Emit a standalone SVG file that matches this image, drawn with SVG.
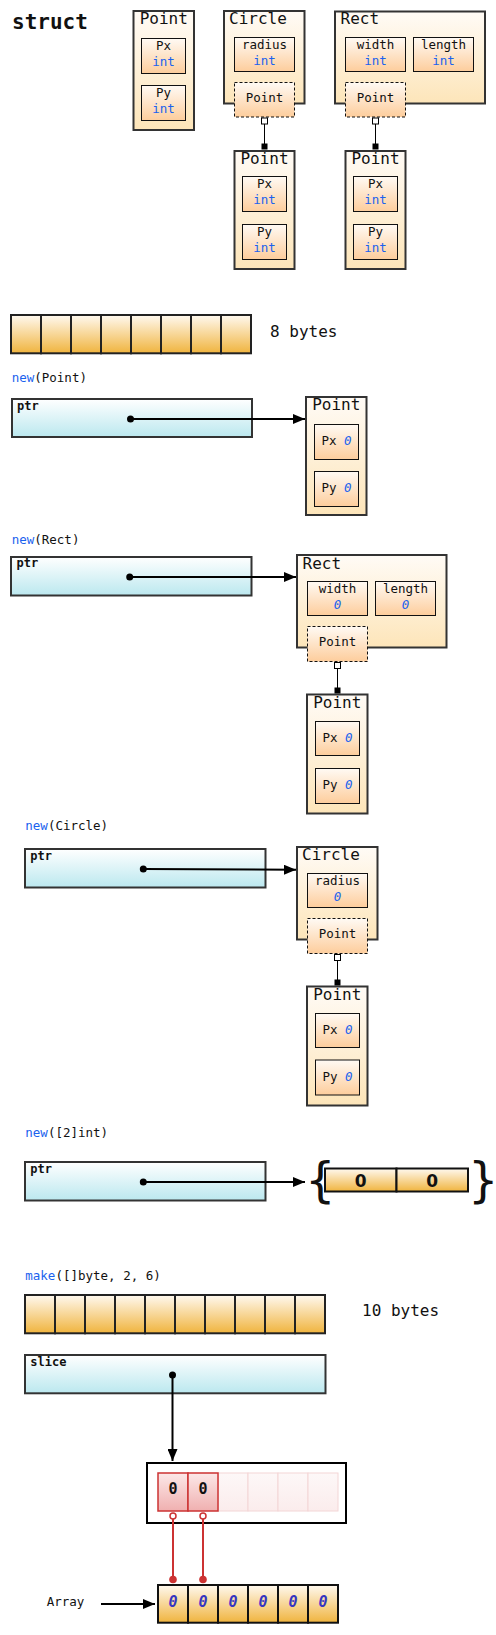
<svg xmlns="http://www.w3.org/2000/svg" width="496" height="1635" viewBox="0 0 496 1635">
<defs>
<linearGradient id="gStruct" x1="0" y1="0" x2="0" y2="1"><stop offset="0" stop-color="#fffbf6"/><stop offset="1" stop-color="#fde5b9"/></linearGradient>
<linearGradient id="gField" x1="0" y1="0" x2="0" y2="1"><stop offset="0" stop-color="#fffaf4"/><stop offset="1" stop-color="#fdcd9c"/></linearGradient>
<linearGradient id="gByte" x1="0" y1="0" x2="0" y2="1"><stop offset="0" stop-color="#fff9f0"/><stop offset="1" stop-color="#f0b43e"/></linearGradient>
<linearGradient id="gPtr" x1="0" y1="0" x2="0" y2="1"><stop offset="0" stop-color="#ffffff"/><stop offset="1" stop-color="#bbe8ef"/></linearGradient>
<linearGradient id="gRed" x1="0" y1="0" x2="0" y2="1"><stop offset="0" stop-color="#fce8e8"/><stop offset="1" stop-color="#f0b0b0"/></linearGradient>
<linearGradient id="gFade" x1="0" y1="0" x2="0" y2="1"><stop offset="0" stop-color="#fdf8f8"/><stop offset="1" stop-color="#fbecec"/></linearGradient>
<marker id="arrow" viewBox="0 0 12 10" refX="12" refY="5" markerWidth="12" markerHeight="10" markerUnits="userSpaceOnUse" orient="auto"><path d="M0,0 L12,5 L0,10 z" fill="#000"/></marker>
<marker id="dot" viewBox="0 0 8 8" refX="4" refY="4" markerWidth="8" markerHeight="8" markerUnits="userSpaceOnUse"><circle cx="4" cy="4" r="3.5" fill="#000"/></marker>
<marker id="sqOpen" viewBox="0 0 8 8" refX="4" refY="4" markerWidth="8" markerHeight="8" markerUnits="userSpaceOnUse"><rect x="1" y="1" width="6" height="6" fill="#fff" stroke="#000" stroke-width="1"/></marker>
<marker id="sqFill" viewBox="0 0 8 8" refX="4" refY="4" markerWidth="8" markerHeight="8" markerUnits="userSpaceOnUse"><rect x="1" y="1" width="6" height="6" fill="#000"/></marker>
<marker id="rOpen" viewBox="0 0 10 10" refX="5" refY="5" markerWidth="10" markerHeight="10" markerUnits="userSpaceOnUse"><circle cx="5" cy="5" r="3" fill="#fff" stroke="#cc3333" stroke-width="1.5"/></marker>
<marker id="rFill" viewBox="0 0 10 10" refX="5" refY="5" markerWidth="10" markerHeight="10" markerUnits="userSpaceOnUse"><circle cx="5" cy="5" r="3.8" fill="#cc3333"/></marker>
</defs>
<style>
text{font-family:"DejaVu Sans Mono","Liberation Mono",monospace;fill:#111}
.struct{fill:url(#gStruct);stroke:#333;stroke-width:2}
.field{fill:url(#gField);stroke:#111;stroke-width:1}
.emb{fill:url(#gField);stroke:#111;stroke-width:1;stroke-dasharray:3 2}
.byte{fill:url(#gByte);stroke:#222;stroke-width:2}
.ptr{fill:url(#gPtr);stroke:#333;stroke-width:2}
.title{font-size:16px}
.f{font-size:12.5px;text-anchor:middle}
.lbl{font-size:12.5px}
.big{font-size:16px}
.kw{fill:#1a62ee}
.v{fill:#1a62ee;font-style:italic}
.b{font-weight:bold;font-size:12px}
.red{fill:url(#gRed);stroke:#cc3333;stroke-width:1.5}
.fade{fill:url(#gFade);stroke:#f3d6d6;stroke-width:1}
.arr{fill:url(#gByte);stroke:#111;stroke-width:2}
.c{stroke:#000;stroke-width:2;fill:none}
.thin{stroke:#000;stroke-width:1;fill:none}
.rc{stroke:#cc3333;stroke-width:2;fill:none}
</style>

<text x="12" y="29" style="font-size:21px;font-weight:bold">struct</text>

<g id="struct-point">
<rect class="struct" x="133.5" y="11" width="60.5" height="119"/>
<text class="title" x="163.75" y="24" text-anchor="middle">Point</text>
<rect class="field" x="141.5" y="38.5" width="44" height="35"/>
<text class="f" x="163.5" y="49.5">Px</text><text class="f kw" x="163.5" y="65.5">int</text>
<rect class="field" x="141.5" y="85.5" width="44" height="35"/>
<text class="f" x="163.5" y="96.5">Py</text><text class="f kw" x="163.5" y="112.5">int</text>
</g>

<g id="struct-circle">
<rect class="struct" x="224" y="11" width="80.5" height="92.5"/>
<text class="title" x="229" y="24">Circle</text>
<rect class="field" x="234.5" y="37.5" width="60" height="34"/>
<text class="f" x="264.5" y="48.5">radius</text><text class="f kw" x="264.5" y="64.5">int</text>
<rect class="emb" x="234.5" y="82.5" width="60" height="34.5"/>
<text class="f" x="264.5" y="102">Point</text>
</g>
<g id="struct-circle-point">
<rect class="struct" x="234.5" y="151" width="60" height="118"/>
<text class="title" x="264.5" y="164" text-anchor="middle">Point</text>
<rect class="field" x="242.5" y="176.5" width="44" height="35"/>
<text class="f" x="264.5" y="187.5">Px</text><text class="f kw" x="264.5" y="203.5">int</text>
<rect class="field" x="242.5" y="224.5" width="44" height="35"/>
<text class="f" x="264.5" y="235.5">Py</text><text class="f kw" x="264.5" y="251.5">int</text>
</g>

<g id="struct-rect">
<rect class="struct" x="335" y="11.5" width="150" height="92"/>
<text class="title" x="340.5" y="24">Rect</text>
<rect class="field" x="345.5" y="37.5" width="60" height="34"/>
<text class="f" x="375.5" y="48.5">width</text><text class="f kw" x="375.5" y="64.5">int</text>
<rect class="field" x="413.5" y="37.5" width="60" height="34"/>
<text class="f" x="443.5" y="48.5">length</text><text class="f kw" x="443.5" y="64.5">int</text>
<rect class="emb" x="345.5" y="82.5" width="60" height="34.5"/>
<text class="f" x="375.5" y="102">Point</text>
</g>
<g id="struct-rect-point">
<rect class="struct" x="345.5" y="151" width="60" height="118"/>
<text class="title" x="375.5" y="164" text-anchor="middle">Point</text>
<rect class="field" x="353.5" y="176.5" width="44" height="35"/>
<text class="f" x="375.5" y="187.5">Px</text><text class="f kw" x="375.5" y="203.5">int</text>
<rect class="field" x="353.5" y="224.5" width="44" height="35"/>
<text class="f" x="375.5" y="235.5">Py</text><text class="f kw" x="375.5" y="251.5">int</text>
</g>

<g id="bytes8">
<rect class="byte" x="11" y="315" width="30" height="38.3"/>
<rect class="byte" x="41" y="315" width="30" height="38.3"/>
<rect class="byte" x="71" y="315" width="30" height="38.3"/>
<rect class="byte" x="101" y="315" width="30" height="38.3"/>
<rect class="byte" x="131" y="315" width="30" height="38.3"/>
<rect class="byte" x="161" y="315" width="30" height="38.3"/>
<rect class="byte" x="191" y="315" width="30" height="38.3"/>
<rect class="byte" x="221" y="315" width="30" height="38.3"/>
<text class="big" x="270" y="337">8 bytes</text>
</g>

<text class="lbl" x="11.7" y="382"><tspan class="kw">new</tspan>(Point)</text>
<g id="ptr-point">
<rect class="ptr" x="12" y="399" width="240" height="38"/>
<text class="b" x="17" y="410">ptr</text>
</g>
<g id="new-point">
<rect class="struct" x="306" y="397" width="60.5" height="118"/>
<text class="title" x="336.3" y="410" text-anchor="middle">Point</text>
<rect class="field" x="314.5" y="424.5" width="44" height="35"/>
<text class="f" x="336.5" y="445">Px <tspan class="v">0</tspan></text>
<rect class="field" x="314.5" y="471.5" width="44" height="35"/>
<text class="f" x="336.5" y="492">Py <tspan class="v">0</tspan></text>
</g>

<text class="lbl" x="11.7" y="544"><tspan class="kw">new</tspan>(Rect)</text>
<g id="ptr-rect">
<rect class="ptr" x="11" y="557" width="240.5" height="38.5"/>
<text class="b" x="16.5" y="567">ptr</text>
</g>
<g id="new-rect">
<rect class="struct" x="297" y="555" width="149.5" height="92.5"/>
<text class="title" x="302.5" y="568.5">Rect</text>
<rect class="field" x="307.5" y="581.5" width="60" height="34"/>
<text class="f" x="337.5" y="593">width</text><text class="f v" x="337.5" y="608.5">0</text>
<rect class="field" x="375.5" y="581.5" width="60" height="34"/>
<text class="f" x="405.5" y="593">length</text><text class="f v" x="405.5" y="608.5">0</text>
<rect class="emb" x="307.5" y="626.5" width="60" height="35"/>
<text class="f" x="337.5" y="646">Point</text>
</g>
<g id="new-rect-point">
<rect class="struct" x="307" y="694.5" width="60.5" height="119"/>
<text class="title" x="337.3" y="707.5" text-anchor="middle">Point</text>
<rect class="field" x="315.5" y="721.5" width="44" height="34"/>
<text class="f" x="337.5" y="741.5">Px <tspan class="v">0</tspan></text>
<rect class="field" x="315.5" y="768.5" width="44" height="35"/>
<text class="f" x="337.5" y="789">Py <tspan class="v">0</tspan></text>
</g>

<text class="lbl" x="25.3" y="830"><tspan class="kw">new</tspan>(Circle)</text>
<g id="ptr-circle">
<rect class="ptr" x="25" y="849" width="240.5" height="38.5"/>
<text class="b" x="30.3" y="859.5">ptr</text>
</g>
<g id="new-circle">
<rect class="struct" x="297" y="847" width="80.5" height="92.5"/>
<text class="title" x="302" y="860">Circle</text>
<rect class="field" x="307.5" y="873.5" width="60" height="34"/>
<text class="f" x="337.5" y="885">radius</text><text class="f v" x="337.5" y="900.5">0</text>
<rect class="emb" x="307.5" y="918.5" width="60" height="35"/>
<text class="f" x="337.5" y="938">Point</text>
</g>
<g id="new-circle-point">
<rect class="struct" x="307" y="986.5" width="60.5" height="119"/>
<text class="title" x="337.3" y="999.5" text-anchor="middle">Point</text>
<rect class="field" x="315.5" y="1013.5" width="44" height="34"/>
<text class="f" x="337.5" y="1033.5">Px <tspan class="v">0</tspan></text>
<rect class="field" x="315.5" y="1060" width="44" height="35"/>
<text class="f" x="337.5" y="1080.5">Py <tspan class="v">0</tspan></text>
</g>

<text class="lbl" x="25.3" y="1137"><tspan class="kw">new</tspan>([2]int)</text>
<g id="ptr-array">
<rect class="ptr" x="25" y="1162" width="240.5" height="38.5"/>
<text class="b" x="30.3" y="1172.5">ptr</text>
</g>
<g id="new-array">
<text x="305" y="1197" style="font-family:'DejaVu Sans',sans-serif;font-size:48px">{</text>
<rect class="arr" x="325" y="1168.5" width="71.5" height="23"/>
<rect class="arr" x="396.5" y="1168.5" width="71.5" height="23"/>
<text x="360.7" y="1187" text-anchor="middle" style="font-family:'DejaVu Sans',sans-serif;font-weight:bold;font-size:17px">0</text>
<text x="432.2" y="1187" text-anchor="middle" style="font-family:'DejaVu Sans',sans-serif;font-weight:bold;font-size:17px">0</text>
<text x="468" y="1197" style="font-family:'DejaVu Sans',sans-serif;font-size:48px">}</text>
</g>

<text class="lbl" x="25.3" y="1280"><tspan class="kw">make</tspan>([]byte, 2, 6)</text>
<g id="bytes10">
<rect class="byte" x="25" y="1295" width="30" height="38.3"/>
<rect class="byte" x="55" y="1295" width="30" height="38.3"/>
<rect class="byte" x="85" y="1295" width="30" height="38.3"/>
<rect class="byte" x="115" y="1295" width="30" height="38.3"/>
<rect class="byte" x="145" y="1295" width="30" height="38.3"/>
<rect class="byte" x="175" y="1295" width="30" height="38.3"/>
<rect class="byte" x="205" y="1295" width="30" height="38.3"/>
<rect class="byte" x="235" y="1295" width="30" height="38.3"/>
<rect class="byte" x="265" y="1295" width="30" height="38.3"/>
<rect class="byte" x="295" y="1295" width="30" height="38.3"/>
<text class="big" x="362" y="1316">10 bytes</text>
</g>
<g id="slice">
<rect class="ptr" x="25" y="1355" width="300.5" height="38.3"/>
<text class="b" x="30.3" y="1366">slice</text>
</g>
<g id="slice-view">
<rect x="147" y="1463" width="199" height="60" fill="#fff" stroke="#000" stroke-width="2"/>
<rect class="fade" x="218" y="1473" width="30" height="38"/>
<rect class="fade" x="248" y="1473" width="30" height="38"/>
<rect class="fade" x="278" y="1473" width="30" height="38"/>
<rect class="fade" x="308" y="1473" width="30" height="38"/>
<rect class="red" x="158" y="1473" width="30" height="38"/>
<rect class="red" x="188" y="1473" width="30" height="38"/>
<text x="173" y="1494" text-anchor="middle" style="font-weight:bold;font-size:15px">0</text>
<text x="203" y="1494" text-anchor="middle" style="font-weight:bold;font-size:15px">0</text>
</g>
<text class="lbl" x="46.7" y="1605.5">Array</text>
<g id="array">
<rect class="arr" x="158" y="1585" width="30" height="37.7"/>
<rect class="arr" x="188" y="1585" width="30" height="37.7"/>
<rect class="arr" x="218" y="1585" width="30" height="37.7"/>
<rect class="arr" x="248" y="1585" width="30" height="37.7"/>
<rect class="arr" x="278" y="1585" width="30" height="37.7"/>
<rect class="arr" x="308" y="1585" width="30" height="37.7"/>
<text x="173" y="1606.5" text-anchor="middle" style="font-style:italic;font-weight:bold;font-size:15px;fill:#3535c0">0</text>
<text x="203" y="1606.5" text-anchor="middle" style="font-style:italic;font-weight:bold;font-size:15px;fill:#3535c0">0</text>
<text x="233" y="1606.5" text-anchor="middle" style="font-style:italic;font-weight:bold;font-size:15px;fill:#3535c0">0</text>
<text x="263" y="1606.5" text-anchor="middle" style="font-style:italic;font-weight:bold;font-size:15px;fill:#3535c0">0</text>
<text x="293" y="1606.5" text-anchor="middle" style="font-style:italic;font-weight:bold;font-size:15px;fill:#3535c0">0</text>
<text x="323" y="1606.5" text-anchor="middle" style="font-style:italic;font-weight:bold;font-size:15px;fill:#3535c0">0</text>
</g>

<g id="connectors">
<line class="thin" x1="264.5" y1="121" x2="264.5" y2="146.5" marker-start="url(#sqOpen)" marker-end="url(#sqFill)"/>
<line class="thin" x1="375.5" y1="121" x2="375.5" y2="146.5" marker-start="url(#sqOpen)" marker-end="url(#sqFill)"/>
<line class="c" x1="130.5" y1="419" x2="305" y2="419" marker-start="url(#dot)" marker-end="url(#arrow)"/>
<line class="c" x1="129.7" y1="577" x2="296" y2="577" marker-start="url(#dot)" marker-end="url(#arrow)"/>
<line class="thin" x1="337.5" y1="665.5" x2="337.5" y2="690.5" marker-start="url(#sqOpen)" marker-end="url(#sqFill)"/>
<line class="c" x1="143.3" y1="869" x2="296" y2="869.8" marker-start="url(#dot)" marker-end="url(#arrow)"/>
<line class="thin" x1="337.5" y1="957.5" x2="337.5" y2="982.5" marker-start="url(#sqOpen)" marker-end="url(#sqFill)"/>
<line class="c" x1="143.3" y1="1182" x2="305" y2="1182" marker-start="url(#dot)" marker-end="url(#arrow)"/>
<line class="c" x1="172.5" y1="1375" x2="172.5" y2="1461" marker-start="url(#dot)" marker-end="url(#arrow)"/>
<line class="rc" x1="173" y1="1516" x2="173" y2="1579.5" marker-start="url(#rOpen)" marker-end="url(#rFill)"/>
<line class="rc" x1="203" y1="1516" x2="203" y2="1579.5" marker-start="url(#rOpen)" marker-end="url(#rFill)"/>
<line class="c" x1="101" y1="1604" x2="155" y2="1604" marker-end="url(#arrow)"/>
</g>
</svg>
